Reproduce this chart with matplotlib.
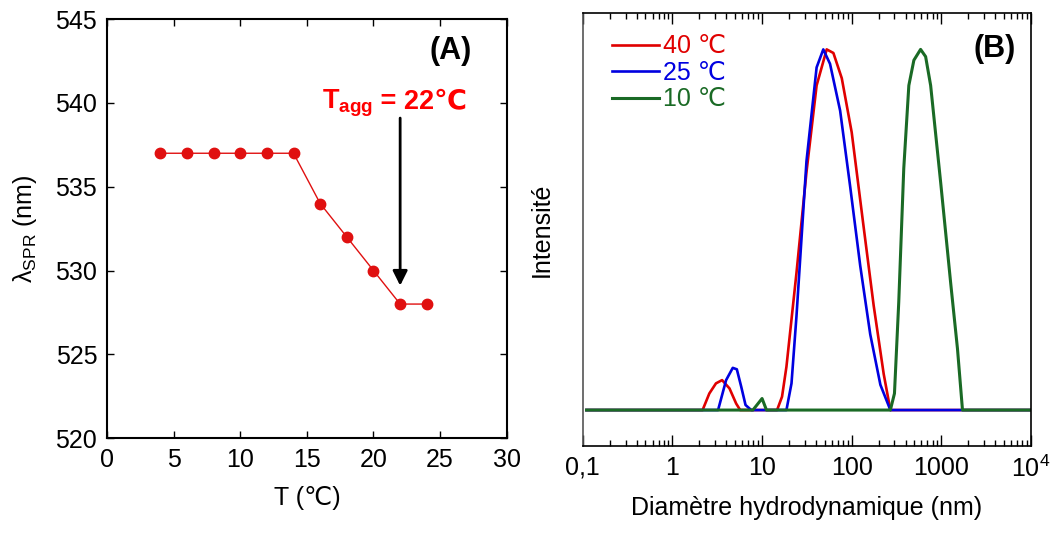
import numpy as np
import matplotlib
matplotlib.use('Agg')
import matplotlib.pyplot as plt
from matplotlib.ticker import FixedLocator, FixedFormatter, LogLocator, NullFormatter

plt.rcParams['font.family'] = ['Liberation Sans', 'DejaVu Sans']
plt.rcParams['mathtext.fontset'] = 'custom'
plt.rcParams['mathtext.rm'] = 'Liberation Sans'
plt.rcParams['mathtext.bf'] = 'Liberation Sans:bold'

# --- panel A data
temp = [4, 6, 8, 10, 12, 14, 16, 18, 20, 22, 24]
lam_spr = [537, 537, 537, 537, 537, 537, 534, 532, 530, 528, 528]

# --- panel B data (DLS intensity)
d_40 = [0.11, 2.17, 2.58, 3.06, 3.58, 4.33, 5.14, 5.7, 14.7, 16.7, 18.7, 24.2, 31.3,
        40.6, 52.6, 62.5, 77.5, 100, 135.5, 175.8, 227.5, 270, 10000]
i_40 = [0, 0, 4.6, 7.4, 8.3, 6, 1.8, 0, 0, 3.7, 12, 38, 66,
        90, 100, 99, 92, 77, 51, 29, 10, 0, 0]

d_25 = [0.11, 3.23, 3.97, 4.71, 5.23, 5.85, 6.54, 7.57, 18.7, 21.3, 24.2, 31.3, 40.6,
        48.2, 57.3, 74.3, 96.1, 124.5, 161, 209, 270, 10000]
i_25 = [0, 0, 8.3, 11.7, 11.3, 6.5, 1.4, 0, 0, 7.4, 26, 69, 95,
        100, 96, 83, 62, 40, 21, 7, 0, 0]

d_10 = [0.11, 7.9, 10, 11.2, 270, 300, 335, 381, 434, 494, 587, 668, 760, 984,
        1274, 1514, 1722, 10000]
i_10 = [0, 0, 3.2, 0, 0, 4.6, 30, 67, 90, 97, 100, 98, 90, 63,
        35, 17, 0, 0]

fig = plt.figure(figsize=(10.52, 5.33), dpi=100)

# ---------------- (A)
ax1 = fig.add_axes([0.1017, 0.178, 0.380, 0.786])
ax1.plot(temp, lam_spr, '-o', color='#e01010', lw=1, ms=7.5)
ax1.set_xlim(0, 30)
ax1.set_ylim(520, 545)
ax1.set_xticks([0, 5, 10, 15, 20, 25, 30])
ax1.set_yticks([520, 525, 530, 535, 540, 545])
ax1.tick_params(direction='in', top=True, right=True, length=5, width=1,
                labelsize=18, pad=7)
for s in ax1.spines.values():
    s.set_linewidth(1.5)
ax1.set_xlabel('T (℃)', fontsize=18, labelpad=10)
ax1.set_ylabel(r'λ$_\mathrm{SPR}$ (nm)', fontsize=18, labelpad=12)
ax1.annotate('', xy=(22, 529.1), xytext=(22, 539.1),
             arrowprops=dict(arrowstyle='-|>', color='black', lw=2,
                             mutation_scale=22, shrinkA=0, shrinkB=0))
# T_agg label: mathtext part and plain part joined at one anchor
ax1.text(20.0, 539.7, r'T$_\mathbf{agg}$', color='#ff0000', fontsize=19.5,
         fontweight='bold', ha='right', va='baseline')
ax1.text(20.0, 539.7, ' = 22℃', color='#ff0000', fontsize=19.5,
         fontweight='bold', ha='left', va='baseline')
ax1.text(25.8, 543.1, '(A)', fontsize=22, fontweight='bold', ha='center', va='center')

# ---------------- (B)
ax2 = fig.add_axes([0.554, 0.163, 0.426, 0.812])
ax2.plot(d_40, i_40, color='#e00000', lw=1.9, label='40 ℃')
ax2.plot(d_25, i_25, color='#0000e0', lw=1.9, label='25 ℃')
ax2.plot(d_10, i_10, color='#1a6a25', lw=2.2, label='10 ℃')
ax2.set_xscale('log')
ax2.set_xlim(0.1, 1e4)
ax2.set_ylim(-10, 110)
ax2.xaxis.set_major_locator(FixedLocator([0.1, 1, 10, 100, 1000, 10000]))
ax2.xaxis.set_major_formatter(FixedFormatter(['0,1', '1', '10', '100', '1000', r'10$^4$']))
ax2.xaxis.set_minor_locator(LogLocator(base=10, subs=np.arange(2, 10), numticks=20))
ax2.xaxis.set_minor_formatter(NullFormatter())
ax2.set_yticks([])
ax2.tick_params(axis='x', which='major', direction='in', top=True, length=8, width=1,
                labelsize=18, pad=7)
ax2.tick_params(axis='x', which='minor', direction='in', top=True, length=4, width=1)
for s in ax2.spines.values():
    s.set_linewidth(1.2)
ax2.spines['left'].set_color('#555555')
ax2.set_xlabel('Diamètre hydrodynamique (nm)', fontsize=18, labelpad=10)
ax2.set_ylabel('Intensité', fontsize=18, labelpad=21)
ax2.text(0.92, 0.917, '(B)', transform=ax2.transAxes, fontsize=22, fontweight='bold',
         ha='center', va='center')
ax2.legend(loc='upper left', bbox_to_anchor=(0.025, 0.992), frameon=False, fontsize=18,
           labelcolor='linecolor', handlelength=1.9, handletextpad=0.15,
           labelspacing=0.1, borderaxespad=0.3)

fig.savefig('out.png', dpi=100)
